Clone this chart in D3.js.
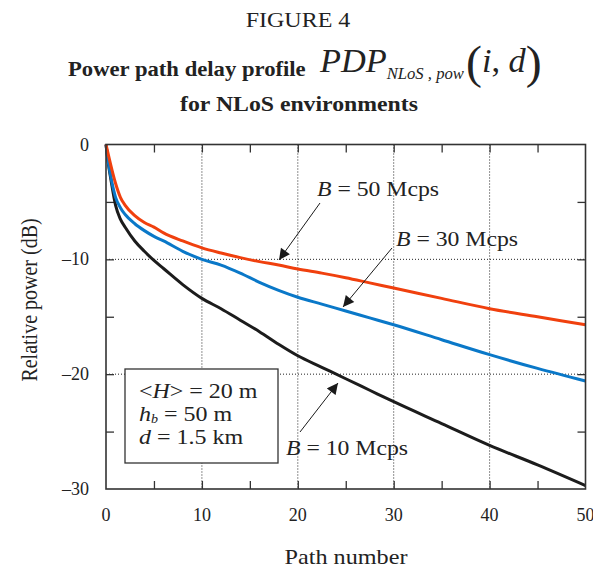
<!DOCTYPE html>
<html>
<head>
<meta charset="utf-8">
<script src="https://cdn.jsdelivr.net/npm/d3@7"></script>
<style>
  body { margin: 0; background: #fff; }
  text { font-family: "Liberation Serif", "Times New Roman", serif; fill: #222; }
</style>
</head>
<body>
<div id="chart"></div>
<script>
// path number (x) and relative power in dB for each chip rate
var pathNumber = [0, 0.25, 0.5, 1, 1.5, 2, 3, 4, 5, 6, 8, 10, 12, 14, 16, 18, 20, 22.5, 25, 27.5, 30, 35, 40, 45, 50];
var power50 = [0, -0.9, -1.8, -3.4, -4.6, -5.3, -6.2, -6.8, -7.2, -7.7, -8.4, -9.0, -9.45, -9.85, -10.2, -10.5, -10.85, -11.2, -11.6, -12.05, -12.5, -13.4, -14.3, -15.0, -15.7];
var power30 = [0, -1.6, -2.8, -4.6, -5.5, -6.1, -6.9, -7.5, -8.0, -8.4, -9.3, -10.0, -10.5, -11.2, -12.0, -12.7, -13.3, -13.9, -14.5, -15.1, -15.7, -17.0, -18.3, -19.5, -20.6];
var power10 = [0, -1.7, -3.0, -5.3, -6.5, -7.2, -8.4, -9.3, -10.1, -10.8, -12.2, -13.4, -14.3, -15.3, -16.3, -17.4, -18.4, -19.4, -20.4, -21.4, -22.4, -24.3, -26.2, -27.9, -29.7];

var xTicks = [0, 10, 20, 30, 40, 50];
var yTicks = [0, -10, -20, -30];
var minorX = [5, 15, 25, 35, 45];
var minorY = [-5, -15, -25];

var series = [
  { name: "B = 50 Mcps", values: power50, color: "#f0400e" },
  { name: "B = 30 Mcps", values: power30, color: "#0a78c8" },
  { name: "B = 10 Mcps", values: power10, color: "#1c1c1c" }
];

var W = 593, H = 572;
var svg = d3.select("#chart").append("svg")
    .attr("width", W)
    .attr("height", H);

var x = d3.scaleLinear().domain([0, 50]).range([106, 585.5]);
var y = d3.scaleLinear().domain([0, -30]).range([144.5, 489]);

// the reference is a bit wider than tall, so text gets a horizontal stretch
function label(px, py, size, sx, anchor, parts, extra) {
  var g = svg.append("g").attr("transform", "translate(" + px + "," + py + ") scale(" + sx + ",1)");
  var t = g.append("text").attr("font-size", size).attr("text-anchor", anchor);
  if (extra) extra(t);
  parts.forEach(function(p) {
    var s = t.append("tspan").text(p[0]);
    var o = p[1] || {};
    Object.keys(o).forEach(k => s.attr(k, o[k]));
  });
  return t;
}

// arrow head
svg.append("defs").append("marker")
    .attr("id", "arr")
    .attr("viewBox", "0 0 10 10")
    .attr("refX", 10).attr("refY", 5)
    .attr("markerWidth", 13).attr("markerHeight", 11)
    .attr("markerUnits", "userSpaceOnUse")
    .attr("orient", "auto")
  .append("path")
    .attr("d", "M0,0 L10,5 L0,10 Z")
    .attr("fill", "#1a1a1a");

// titles
label(298, 27, 20, 1.2, "middle", [["FIGURE 4"]]);
label(68, 76, 22, 1.03, "start", [["Power path delay profile"]], t => t.attr("font-weight", "bold"));
var it = { "font-style": "italic" };
label(320, 72, 33, 1.04, "start", [
  ["PDP", it],
  ["NLoS , pow", { "font-style": "italic", "font-size": 16, "dy": 7 }],
  ["(", { "font-size": 46, "dy": -1, "dx": 2 }],
  ["i", { "font-style": "italic", "dy": -6 }],
  [", "],
  ["d", it],
  [")", { "font-size": 46, "dy": 6 }]
]);
label(299, 111, 22, 1.08, "middle", [["for NLoS environments"]], t => t.attr("font-weight", "bold"));

// dotted grid
var grid = svg.append("g").attr("stroke", "#222").attr("stroke-width", 1).attr("stroke-dasharray", "1,2");
grid.selectAll(".gx").data(xTicks.slice(1, -1)).enter().append("line")
    .attr("x1", d => x(d)).attr("x2", d => x(d))
    .attr("y1", y(0)).attr("y2", y(-30));
grid.selectAll(".gy").data(yTicks.slice(1, -1)).enter().append("line")
    .attr("x1", x(0)).attr("x2", x(50))
    .attr("y1", d => y(d)).attr("y2", d => y(d));

// axes with inside ticks
var tk = 8;
var xt = minorX.concat(xTicks.slice(1, -1));
var yt = minorY.concat(yTicks.slice(1, -1));
svg.append("g").attr("transform", "translate(0," + y(-30) + ")")
    .call(d3.axisBottom(x).tickValues(xt).tickSize(-tk).tickFormat(""));
svg.append("g").attr("transform", "translate(0," + y(0) + ")")
    .call(d3.axisTop(x).tickValues(xt).tickSize(-tk).tickFormat(""));
svg.append("g").attr("transform", "translate(" + x(0) + ",0)")
    .call(d3.axisLeft(y).tickValues(yt).tickSize(-tk).tickFormat(""));
svg.append("g").attr("transform", "translate(" + x(50) + ",0)")
    .call(d3.axisRight(y).tickValues(yt).tickSize(-tk).tickFormat(""));
svg.selectAll(".domain").remove();
svg.selectAll(".tick line").attr("stroke", "#333").attr("stroke-width", 1.3);

// tick labels
svg.selectAll(".xl").data(xTicks).enter().append("text")
    .attr("x", d => x(d)).attr("y", 521)
    .attr("text-anchor", "middle").attr("font-size", 18)
    .text(d => d);
svg.selectAll(".yl").data(yTicks).enter().append("text")
    .attr("x", 89).attr("y", d => y(d) + 6)
    .attr("text-anchor", "end").attr("font-size", 18)
    .text(d => d === 0 ? "0" : "\u2013" + Math.abs(d));

// axis titles
label(346, 564, 22, 1.1, "middle", [["Path number"]]);
svg.append("text")
    .attr("transform", "translate(37,300) rotate(-90) scale(1,1.15)")
    .attr("text-anchor", "middle").attr("font-size", 20)
    .text("Relative power (dB)");

// curves
var line = d3.line()
    .x((d, i) => x(pathNumber[i]))
    .y(d => y(d))
    .curve(d3.curveMonotoneX);
svg.selectAll(".curve").data(series.slice().reverse()).enter().append("path")
    .attr("d", d => line(d.values))
    .attr("fill", "none")
    .attr("stroke", d => d.color)
    .attr("stroke-width", 3);

// frame
svg.append("rect")
    .attr("x", x(0)).attr("y", y(0))
    .attr("width", x(50) - x(0)).attr("height", y(-30) - y(0))
    .attr("fill", "none").attr("stroke", "#333").attr("stroke-width", 1.6);

// labels with arrows
var notes = [
  { s: 0, tx: 317, ty: 196, ax1: 320, ay1: 203, ax2: 279, ay2: 260 },
  { s: 1, tx: 396, ty: 246, ax1: 392, ay1: 248, ax2: 343, ay2: 307 },
  { s: 2, tx: 286, ty: 455, ax1: 300, ay1: 432, ax2: 338, ay2: 383 }
];
notes.forEach(function(n) {
  svg.append("line")
      .attr("x1", n.ax1).attr("y1", n.ay1).attr("x2", n.ax2).attr("y2", n.ay2)
      .attr("stroke", "#1a1a1a").attr("stroke-width", 1)
      .attr("marker-end", "url(#arr)");
  label(n.tx, n.ty, 21, 1.13, "start", [["B", it], [series[n.s].name.replace("B", "")]]);
});

// parameter box
svg.append("rect").attr("x", 125).attr("y", 369).attr("width", 153).attr("height", 94)
    .attr("fill", "#fff").attr("stroke", "#333").attr("stroke-width", 1.3);
label(139, 398, 20.5, 1.17, "start", [["<"], ["H", it], ["> = 20 m"]]);
label(139, 421, 20.5, 1.17, "start", [["h", it], ["b", { "font-style": "italic", "font-size": 12, "dy": 2 }], [" = 50 m", { "dy": -2 }]]);
label(139, 444, 20.5, 1.17, "start", [["d", it], [" = 1.5 km"]]);
</script>
</body>
</html>
